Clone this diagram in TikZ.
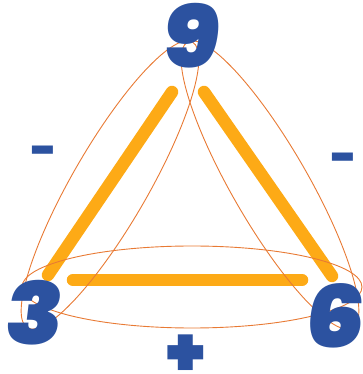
\documentclass[tikz,border=0pt]{standalone}
\usepackage{fontspec}
\setmainfont{Poppins}[BoldFont={* Black}]
\newfontfamily\digitfont{Poppins Black}[FakeSlant=0.12,FakeStretch=1.1]
\definecolor{barorange}{RGB}{253,170,22}
\definecolor{ellred}{RGB}{232,122,52}
\definecolor{digblue}{RGB}{44,82,160}
\begin{document}
\begin{tikzpicture}[x=1pt,y=1pt,
  bar/.style={line width=12.5pt,line cap=round,draw=barorange},
  ell/.style={draw=ellred,line width=0.9pt},
  digit/.style={text=digblue,font=\fontsize{86}{86}\selectfont\digitfont,inner sep=0pt,anchor=base},
  sign/.style={text=digblue,inner sep=0pt}]
\useasboundingbox (0,0) rectangle (363,374);
% bar ends
\coordinate (l1) at (48,99);
\coordinate (l2) at (172,282);
\coordinate (r1) at (204,282);
\coordinate (r2) at (332,98);
\coordinate (b1) at (73,94);
\coordinate (b2) at (302,94);
\draw[bar] (l1) -- (l2);
\draw[bar] (r1) -- (r2);
\draw[bar] (b1) -- (b2);
% ellipses
\draw[ell] (110,189) circle [x radius=165, y radius=38, rotate=60];
\draw[ell] (270,189) circle [x radius=165, y radius=38, rotate=120];
\draw[ell] (192,87) circle [x radius=170, y radius=41];
% digits
\node[digit] (n9) at (189,306) {9};
\node[digit] (n3) at (32,29) {3};
\node[digit] (n6) at (332,26) {6};
% signs
\node[sign,font=\fontsize{45}{45}\selectfont\bfseries] (m1) at (44.5,218.5) {-};
\node[sign,font=\fontsize{45}{45}\selectfont\bfseries] (m2) at (344.5,211.5) {-};
\node[sign,font=\fontsize{70}{70}\selectfont\bfseries] (p1) at (186,18) {+};
\end{tikzpicture}
\end{document}
